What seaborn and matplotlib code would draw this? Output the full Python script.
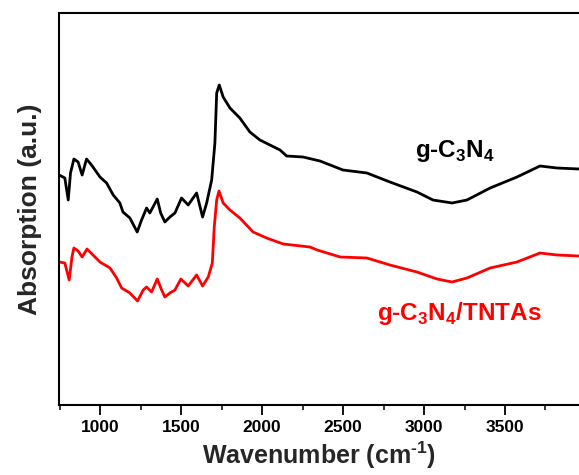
"""FTIR-style absorption spectra of g-C3N4 and g-C3N4/TNTAs."""
import matplotlib

matplotlib.use("Agg")
import matplotlib.pyplot as plt
import pandas as pd
import seaborn as sns
from matplotlib.ticker import MultipleLocator

# wavenumber (cm^-1) and absorption (a.u.)
bare_wn = [746, 781, 802, 816, 837, 863, 888, 915, 946, 998, 1039, 1080, 1121, 1140,
           1183, 1228, 1255, 1286, 1306, 1352, 1373, 1399, 1430, 1461, 1502, 1543,
           1595, 1632, 1657, 1688, 1708, 1719, 1735, 1759, 1801, 1862, 1924, 1986,
           2048, 2110, 2151, 2252, 2357, 2499, 2647, 2789, 2956, 3055, 3173, 3265,
           3408, 3574, 3716, 3821, 3957]
bare_abs = [2.30, 2.27, 2.05, 2.32, 2.46, 2.43, 2.30, 2.46, 2.40, 2.28, 2.22, 2.10,
            2.02, 1.93, 1.87, 1.73, 1.85, 1.97, 1.92, 2.06, 1.92, 1.83, 1.88, 1.92,
            2.07, 2.00, 2.12, 1.88, 2.02, 2.25, 2.62, 3.12, 3.20, 3.08, 2.97, 2.87,
            2.73, 2.65, 2.60, 2.55, 2.49, 2.48, 2.44, 2.35, 2.32, 2.23, 2.13, 2.05,
            2.02, 2.05, 2.17, 2.28, 2.39, 2.37, 2.36]

comp_wn = [746, 781, 808, 825, 837, 863, 888, 918, 955, 998, 1060, 1101, 1132, 1183,
           1230, 1265, 1286, 1317, 1352, 1379, 1399, 1430, 1461, 1498, 1543, 1595,
           1632, 1667, 1692, 1704, 1719, 1733, 1759, 1801, 1862, 1944, 2027, 2130,
           2295, 2340, 2482, 2647, 2789, 2956, 3080, 3173, 3265, 3408, 3574, 3716,
           3821, 3957]
comp_abs = [1.43, 1.42, 1.25, 1.48, 1.57, 1.54, 1.48, 1.56, 1.50, 1.43, 1.37, 1.27,
            1.17, 1.12, 1.04, 1.15, 1.18, 1.13, 1.26, 1.15, 1.08, 1.12, 1.15, 1.26,
            1.19, 1.30, 1.19, 1.28, 1.42, 1.78, 2.05, 2.14, 2.02, 1.95, 1.87, 1.73,
            1.67, 1.61, 1.58, 1.55, 1.48, 1.47, 1.40, 1.33, 1.26, 1.23, 1.27, 1.37,
            1.43, 1.52, 1.50, 1.49]

sns.set_theme(style="ticks")
plt.rcParams["font.family"] = ["Liberation Sans", "DejaVu Sans"]
plt.rcParams["font.weight"] = "bold"
plt.rcParams["mathtext.fontset"] = "custom"
plt.rcParams["mathtext.rm"] = "Liberation Sans:bold"
plt.rcParams["mathtext.bf"] = "Liberation Sans:bold"

bare = pd.DataFrame({"wn": bare_wn, "abs": bare_abs})
comp = pd.DataFrame({"wn": comp_wn, "abs": comp_abs})

fig = plt.figure(figsize=(5.79, 4.75), dpi=100)
ax = fig.add_axes([59 / 579, 70 / 475, 520 / 579, 392 / 475])

sns.lineplot(data=bare, x="wn", y="abs", color="black", linewidth=2.0, ax=ax)
sns.lineplot(data=comp, x="wn", y="abs", color="#ff0000", linewidth=2.0, ax=ax)

ax.set_xlim(745, 3957)
ax.set_ylim(0, 3.92)
ax.xaxis.set_major_locator(MultipleLocator(500))
ax.xaxis.set_minor_locator(MultipleLocator(250))
ax.set_yticks([])
ax.tick_params(axis="x", which="major", length=7, width=1.3, direction="out",
               labelsize=12.5, pad=4, colors="black")
ax.tick_params(axis="x", which="minor", length=3.5, width=1.3, direction="out")
for lab in ax.get_xticklabels():
    lab.set_fontweight("bold")

for side in ("left", "bottom", "top"):
    ax.spines[side].set_linewidth(1.5)
    ax.spines[side].set_color("black")
ax.spines["right"].set_visible(False)

ax.set_xlabel("Wavenumber (cm$^{\\text{-1}}$)", fontsize=18, fontweight="bold",
              labelpad=3)
ax.set_ylabel("Absorption (a.u.)", fontsize=19, fontweight="bold", labelpad=12)

ax.text(2944, 2.48, "g-C$_\\mathbf{3}$N$_\\mathbf{4}$", fontsize=17.5,
        fontweight="bold", color="black", va="baseline", ha="left")
ax.text(2709, 0.85, "g-C$_\\mathbf{3}$N$_\\mathbf{4}$/TNTAs", fontsize=17.5,
        fontweight="bold", color="#ff0000", va="baseline", ha="left")

fig.savefig("out.png", dpi=100)
